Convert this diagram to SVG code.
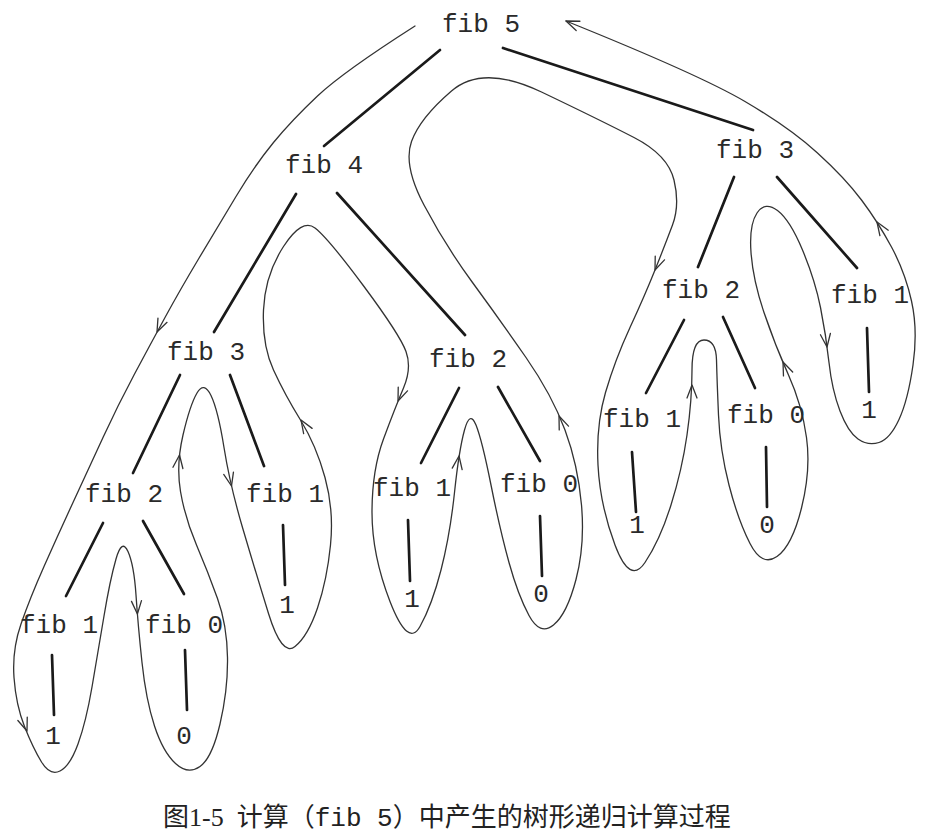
<svg xmlns="http://www.w3.org/2000/svg" xmlns:xlink="http://www.w3.org/1999/xlink" width="933" height="838" viewBox="0 0 933 838">
<style>
  .lbl { font-family: "Liberation Mono", "DejaVu Sans Mono", monospace; font-size: 26px; fill: #2a2a2a; text-anchor: middle; }
  .edge { stroke: #1a1a1a; stroke-width: 2.7; stroke-linecap: round; fill: none; }
  .flow { stroke: #333; stroke-width: 1.3; fill: none; stroke-linecap: round; stroke-linejoin: round; }
  .cap { font-family: "Liberation Serif", "Noto Sans CJK SC", serif; font-size: 26px; fill: #222; }
  .capmono { font-family: "Liberation Mono", monospace; }
</style>
<defs>
  <path id="ah" d="M -13 -5 L 0 0 L -13 5" fill="none" stroke="#333" stroke-width="1.3" stroke-linecap="round" stroke-linejoin="round"/>
</defs>
<rect width="933" height="838" fill="#fff"/>

<g id="connectors">
  <g id="tree-edges">
    <line class="edge" x1="440" y1="50" x2="324" y2="146"/>
    <line class="edge" x1="503" y1="48" x2="753" y2="130"/>
    <line class="edge" x1="296" y1="194" x2="214" y2="332"/>
    <line class="edge" x1="337" y1="193" x2="465" y2="335"/>
    <line class="edge" x1="734" y1="177" x2="698" y2="267"/>
    <line class="edge" x1="777" y1="177" x2="857" y2="268"/>
    <line class="edge" x1="867" y1="328" x2="869" y2="392"/>
    <line class="edge" x1="684" y1="320" x2="646" y2="393"/>
    <line class="edge" x1="723" y1="317" x2="755" y2="388"/>
    <line class="edge" x1="632" y1="452" x2="636" y2="512"/>
    <line class="edge" x1="766" y1="447" x2="767" y2="507"/>
    <line class="edge" x1="180" y1="375" x2="133" y2="473"/>
    <line class="edge" x1="230" y1="375" x2="264" y2="466"/>
    <line class="edge" x1="283" y1="525" x2="285" y2="585"/>
    <line class="edge" x1="103" y1="523" x2="66" y2="596"/>
    <line class="edge" x1="143" y1="521" x2="184" y2="594"/>
    <line class="edge" x1="52" y1="655" x2="54" y2="715"/>
    <line class="edge" x1="185" y1="650" x2="187" y2="710"/>
    <line class="edge" x1="459" y1="388" x2="421" y2="463"/>
    <line class="edge" x1="498" y1="387" x2="540" y2="461"/>
    <line class="edge" x1="408" y1="520" x2="410" y2="581"/>
    <line class="edge" x1="540" y1="516" x2="542" y2="576"/>
  </g>
  <g id="flow">
    <path class="flow" d="M 415 26 Q 343 72 317.5 96 Q 292 120 273.5 142.5 Q 255 165 236 196.5 Q 217 228 198.5 259 Q 180 290 165 317.5 Q 150 345 134 375 Q 118 405 103 437.5 Q 88 470 73 502.5 Q 58 535 44 566.5 Q 30 598 21 624 Q 12 650 14 677.5 Q 16 705 24.5 726.5 Q 33 748 41.5 762 Q 50 776 60 771 Q 70 766 78 744 Q 86 722 92 687 Q 98 652 104 616 Q 110 580 116 559 Q 122 538 128 551.5 Q 134 565 136 595 Q 138 625 142 662.5 Q 146 700 154.5 726 Q 163 752 175.5 763.5 Q 188 775 200 766.5 Q 212 758 220 724 Q 228 690 227.5 657.5 Q 227 625 217.5 598.5 Q 208 572 196.5 545 Q 185 518 180.5 491.5 Q 176 465 183 435 Q 190 405 197 393 Q 204 381 211 395.5 Q 218 410 224 447.5 Q 230 485 242.5 527.5 Q 255 570 268.5 613.5 Q 282 657 295 646.5 Q 308 636 317.5 608 Q 327 580 330.5 545 Q 334 510 325 477.5 Q 316 445 300.5 420 Q 285 395 273.5 370 Q 262 345 263.5 310 Q 265 275 283.5 246.5 Q 302 218 315 228 Q 328 238 364 286.5 Q 400 335 406 351.5 Q 412 368 403.5 388 Q 395 408 383.5 439 Q 372 470 372 512.5 Q 372 555 390 601.5 Q 408 648 420 626.5 Q 432 605 441 570 Q 450 535 454.5 492.5 Q 459 450 464.5 430 Q 470 410 476 425 Q 482 440 491 485 Q 500 530 509 562.5 Q 518 595 529 615.5 Q 540 636 553.5 625 Q 567 614 576 579.5 Q 585 545 581.5 505 Q 578 465 565 430 Q 552 395 526 357.5 Q 500 320 472.5 282.5 Q 445 245 424 205 Q 403 165 411.5 141.5 Q 420 118 451.5 91 Q 483 64 541.5 92 Q 600 120 634 137.5 Q 668 155 674 180 Q 680 205 672.5 225 Q 665 245 655 270 Q 645 295 630 327.5 Q 615 360 605.5 392.5 Q 596 425 598 465 Q 600 505 615 545 Q 630 585 645 562.5 Q 660 540 671 505 Q 682 470 687 435 Q 692 400 692 370 Q 692 340 704 340 Q 716 340 716.5 360 Q 717 380 718.5 415 Q 720 450 729 485 Q 738 520 750 543.5 Q 762 567 777 556.5 Q 792 546 801.5 508 Q 811 470 806.5 437.5 Q 802 405 788.5 375 Q 775 345 764 312.5 Q 753 280 751 252.5 Q 749 225 757 213 Q 765 201 777.5 210.5 Q 790 220 802.5 250 Q 815 280 820.5 307.5 Q 826 335 829 362.5 Q 832 390 840 411 Q 848 432 858 439 Q 868 446 879 442.5 Q 890 439 899 419.5 Q 908 400 913 365 Q 918 330 911.5 301 Q 905 272 891.5 247 Q 878 222 861.5 200 Q 845 178 817.5 153 Q 790 128 745 101.5 Q 700 75 566 21"/>
    <use xlink:href="#ah" href="#ah" transform="translate(157 332) rotate(115)"/>
    <use xlink:href="#ah" href="#ah" transform="translate(27 731) rotate(70)"/>
    <use xlink:href="#ah" href="#ah" transform="translate(137.4 614) rotate(86)"/>
    <use xlink:href="#ah" href="#ah" transform="translate(179.5 455) rotate(-83)"/>
    <use xlink:href="#ah" href="#ah" transform="translate(231.5 486) rotate(77)"/>
    <use xlink:href="#ah" href="#ah" transform="translate(301 420) rotate(-122)"/>
    <use xlink:href="#ah" href="#ah" transform="translate(398 401) rotate(112)"/>
    <use xlink:href="#ah" href="#ah" transform="translate(459 456) rotate(-82)"/>
    <use xlink:href="#ah" href="#ah" transform="translate(559 416) rotate(-112)"/>
    <use xlink:href="#ah" href="#ah" transform="translate(655 270) rotate(112)"/>
    <use xlink:href="#ah" href="#ah" transform="translate(692 385) rotate(-90)"/>
    <use xlink:href="#ah" href="#ah" transform="translate(783 362) rotate(-113)"/>
    <use xlink:href="#ah" href="#ah" transform="translate(827 347) rotate(83)"/>
    <use xlink:href="#ah" href="#ah" transform="translate(877 222) rotate(-123)"/>
    <use xlink:href="#ah" href="#ah" transform="translate(566 21) rotate(-158)"/>
  </g>
</g>

<g id="n-fib5"><text class="lbl" x="481" y="32">fib 5</text></g>
<g id="n-fib4"><text class="lbl" x="324" y="173">fib 4</text></g>
<g id="n-fib3-r"><text class="lbl" x="755" y="158">fib 3</text></g>
<g id="n-fib3-l"><text class="lbl" x="206" y="360">fib 3</text></g>
<g id="n-fib2-m"><text class="lbl" x="468" y="367">fib 2</text></g>
<g id="n-fib2-r"><text class="lbl" x="701" y="298">fib 2</text></g>
<g id="n-fib1-r"><text class="lbl" x="870" y="303">fib 1</text></g>
<g id="n-1-r"><text class="lbl" x="869" y="418">1</text></g>
<g id="n-fib2-l"><text class="lbl" x="124" y="502">fib 2</text></g>
<g id="n-fib1-ml"><text class="lbl" x="285" y="502">fib 1</text></g>
<g id="n-1-ml"><text class="lbl" x="287" y="613">1</text></g>
<g id="n-fib1-bl"><text class="lbl" x="59" y="633">fib 1</text></g>
<g id="n-fib0-bl"><text class="lbl" x="184" y="633">fib 0</text></g>
<g id="n-1-bl"><text class="lbl" x="53" y="744">1</text></g>
<g id="n-0-bl"><text class="lbl" x="184" y="744">0</text></g>
<g id="n-fib1-m"><text class="lbl" x="412" y="496">fib 1</text></g>
<g id="n-fib0-m"><text class="lbl" x="539" y="492">fib 0</text></g>
<g id="n-1-m"><text class="lbl" x="412" y="607">1</text></g>
<g id="n-0-m"><text class="lbl" x="541" y="602">0</text></g>
<g id="n-fib1-rb"><text class="lbl" x="642" y="427">fib 1</text></g>
<g id="n-fib0-rb"><text class="lbl" x="766" y="423">fib 0</text></g>
<g id="n-1-rb"><text class="lbl" x="637" y="533">1</text></g>
<g id="n-0-rb"><text class="lbl" x="767" y="533">0</text></g>

<g id="caption">
  <text class="cap" x="163" y="826">图1-5<tspan dx="13">计算（</tspan><tspan class="capmono">fib 5</tspan><tspan>）中产生的树形递归计算过程</tspan></text>
</g>
</svg>
